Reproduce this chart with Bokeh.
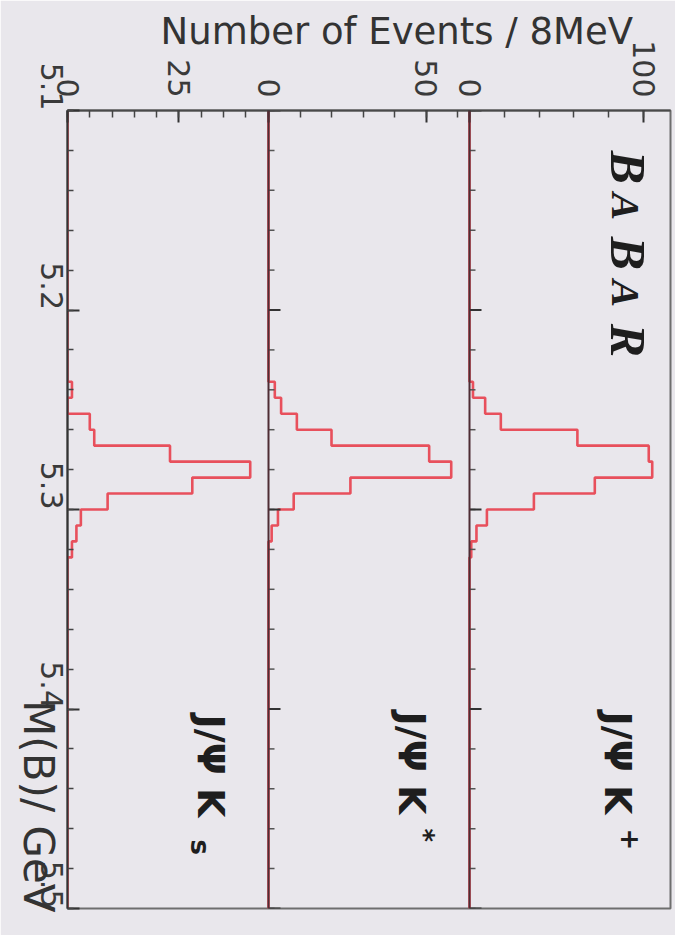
import numpy as np
from bokeh.plotting import figure
from bokeh.layouts import column
from bokeh.models import Range1d, FixedTicker, Label, Span, PrintfTickFormatter
from bokeh.embed import file_html
from bokeh.resources import INLINE

# ---------------- data ----------------
mass_start = 5.1
mass_end = 5.5
bin_width = 0.008          # GeV (8 MeV bins)
first_bin = 17             # index of first listed bin (starts at 5.236 GeV)
channels = ["Ks", "Kstar", "Kplus"]          # panels left -> right
counts_ks = [1, 0, 5, 6, 23, 41, 28, 9, 3, 2, 1]
counts_kstar = [2, 4, 9, 20, 51, 58, 26, 8, 3, 1, 0]
counts_kplus = [2, 9, 18, 62, 103, 105, 72, 37, 10, 4, 1]
count_max = [45.1, 63.8, 115.5]               # axis maximum of each panel
count_major = [[0, 25], [0, 50], [0, 100]]    # labelled count ticks
count_minor_step = [5, 10, 20]
mass_ticks = [5.1, 5.2, 5.3, 5.4, 5.5]
mass_minor_step = 0.02
label_main = ["J/\u03a8 K", "J/\u03a8 K", "J/\u03a8 K"]
label_script = ["s", "*", "+"]
babar_letters = ["B", "A", "B", "A", "R"]
title_text = "Number of Events / 8MeV"
xlabel_text = "M(B)/ GeV"

BG = "#e9e7ec"
RED = "#e8505c"

W, H = 675, 935
FL, FT, FR, FB = 67, 110, 670, 908     # frame edges on the page (px)
NP = len(channels)

p = figure(width=W, height=H,
           x_range=Range1d(0, NP), y_range=Range1d(mass_end, mass_start),
           x_axis_location="above", output_backend="svg", toolbar_location=None,
           min_border_left=FL, min_border_right=W - FR,
           min_border_top=FT, min_border_bottom=H - FB,
           background_fill_color=BG, border_fill_color=BG)
p.frame_align = False
p.grid.visible = False
p.outline_line_color = "#6e6e6e"
p.outline_line_width = 2

# ---------------- histograms ----------------
n_bins = int(round((mass_end - mass_start) / bin_width))
edges = mass_start + bin_width * np.arange(n_bins + 1)
all_counts = [counts_ks, counts_kstar, counts_kplus]
for i, cnt in enumerate(all_counts):
    full = np.zeros(n_bins)
    full[first_bin:first_bin + len(cnt)] = cnt
    xs = np.repeat(full, 2)
    ys = np.repeat(edges, 2)[1:-1]
    sub = p.subplot(x_source=Range1d(0, count_max[i]), y_source=p.y_range,
                    x_target=Range1d(i, i + 1), y_target=p.y_range)
    sub.line(x=xs, y=ys, line_color=RED, line_width=2.6)

# ---------------- panel separators ----------------
for i in range(1, NP):
    p.add_layout(Span(location=i, dimension="height", line_color="#4e2d34", line_width=2))

# inward mass ticks on each inner panel's left edge
px_unit = (FR - FL) / NP
maj = np.array(mass_ticks)
mnr = np.round(np.arange(mass_start, mass_end + 1e-9, mass_minor_step), 3)
for i in range(1, NP):
    p.segment(x0=[i] * len(mnr), x1=[i + 6 / px_unit] * len(mnr), y0=mnr, y1=mnr,
              line_color="#555555", line_width=1.5)
    p.segment(x0=[i] * len(maj), x1=[i + 12 / px_unit] * len(maj), y0=maj, y1=maj,
              line_color="#333333", line_width=2)

# ---------------- axes ----------------
ticks, minors, overrides = [], [], {}
for i in range(NP):
    for v in count_major[i]:
        pos = i + v / count_max[i]
        ticks.append(pos)
        overrides[pos] = str(v)
    for v in np.arange(0, count_max[i], count_minor_step[i]):
        minors.append(i + v / count_max[i])

xa = p.xaxis[0]
xa.ticker = FixedTicker(ticks=ticks, minor_ticks=minors)
xa.major_label_overrides = overrides
xa.major_label_orientation = -np.pi / 2
xa.major_label_standoff = 13
xa.major_label_text_font = "DejaVu Sans"
xa.major_label_text_font_size = "30px"
xa.major_label_text_color = "#3a3a3a"
xa.major_tick_in = 12
xa.major_tick_out = 0
xa.minor_tick_in = 7
xa.minor_tick_out = 0
xa.axis_line_color = "#4a4a4a"
xa.axis_line_width = 2
xa.major_tick_line_color = "#333333"
xa.major_tick_line_width = 2
xa.minor_tick_line_color = "#444444"
xa.minor_tick_line_width = 1.5

ya = p.yaxis[0]
ya.ticker = FixedTicker(ticks=mass_ticks, minor_ticks=list(mnr))
ya.formatter = PrintfTickFormatter(format="%.1f")
ya.major_label_orientation = -np.pi / 2
ya.major_label_standoff = 16
ya.major_label_text_font = "DejaVu Sans"
ya.major_label_text_font_size = "30px"
ya.major_label_text_color = "#3a3a3a"
ya.major_tick_in = 12
ya.major_tick_out = 0
ya.minor_tick_in = 6
ya.minor_tick_out = 0
ya.axis_line_color = "#333333"
ya.axis_line_width = 2
ya.major_tick_line_color = "#333333"
ya.major_tick_line_width = 2
ya.minor_tick_line_color = "#444444"
ya.minor_tick_line_width = 1.5

# ---------------- text overlay (page-pixel coordinates) ----------------
ov = figure(width=W, height=H, x_range=Range1d(0, W), y_range=Range1d(H, 0),
            x_axis_type=None, y_axis_type=None, min_border=0,
            output_backend="svg", toolbar_location=None,
            background_fill_color=None, border_fill_color=None)
ov.frame_align = False
ov.outline_line_color = None
ov.grid.visible = False
ov.styles = {"margin-top": f"-{H}px"}

ov.add_layout(Label(x=160, y=31, text=title_text,
                    text_font="DejaVu Sans", text_font_size="37px", text_color="#333333",
                    text_align="left", text_baseline="middle"))
ov.add_layout(Label(x=38, y=912, text=xlabel_text, angle=-np.pi / 2,
                    text_font="DejaVu Sans", text_font_size="42px", text_color="#333333",
                    text_align="right", text_baseline="middle"))

# BABAR logo
b_y = [167, 206, 253, 293, 340]
b_x = [627, 625, 627, 625, 627]
b_size = [50, 41, 50, 41, 50]
for ch, xx, yy, sz in zip(babar_letters, b_x, b_y, b_size):
    ov.add_layout(Label(x=xx, y=yy, text=ch, angle=-np.pi / 2,
                        text_font="Liberation Serif", text_font_style="bold italic",
                        text_font_size=f"{sz}px", text_color="#1e1e1e",
                        text_align="center", text_baseline="middle"))

# channel labels
main_x = [210, 411, 617]
main_y = [714, 711, 711]
script_x = [199, 423, 630]
script_y = [839, 828, 828]
for i in range(NP):
    ov.add_layout(Label(x=main_x[i], y=main_y[i], text=label_main[i], angle=-np.pi / 2,
                        text_font="DejaVu Sans", text_font_style="bold", text_font_size="38px",
                        text_color="#1e1e1e", text_align="left", text_baseline="middle"))
    ov.add_layout(Label(x=script_x[i], y=script_y[i], text=label_script[i], angle=-np.pi / 2,
                        text_font="DejaVu Sans", text_font_style="bold", text_font_size="26px",
                        text_color="#1e1e1e", text_align="left", text_baseline="middle"))

layout = column(p, ov)
open("out.html", "w").write(file_html(layout, INLINE))
